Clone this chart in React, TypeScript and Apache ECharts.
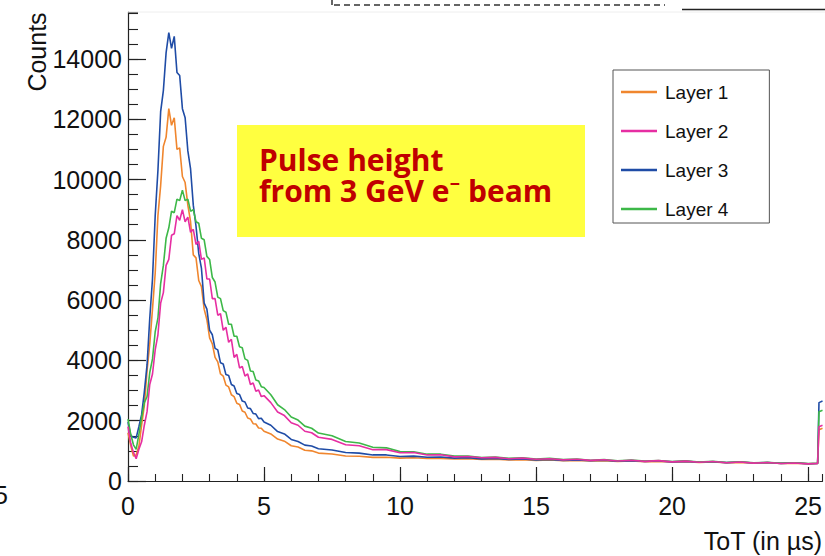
import React, { useEffect, useRef } from "react";
import * as echarts from "echarts";

// ToT positions (µs) – dense sampling in the pulse region, coarser in the tail
const X_PEAK = [
  0, 0.1, 0.2, 0.3, 0.4, 0.5, 0.6, 0.7, 0.8, 0.9,
  1.0, 1.1, 1.2, 1.3, 1.4, 1.5, 1.6, 1.7, 1.8, 1.9,
  2.0, 2.1, 2.2, 2.3, 2.4, 2.5, 2.6, 2.7, 2.8, 2.9,
  3.0, 3.1, 3.2, 3.3, 3.4, 3.5, 3.6, 3.7, 3.8, 3.9,
  4.0, 4.1, 4.2, 4.3, 4.4, 4.5, 4.6, 4.7, 4.8, 4.9, 5.0,
];
const X_TAIL = [
  5.25, 5.5, 5.75, 6, 6.25, 6.5, 6.75, 7, 7.5, 8, 8.5, 9, 9.5, 10, 10.5, 11,
  11.5, 12, 12.5, 13, 13.5, 14, 14.5, 15, 15.5, 16, 16.5, 17, 17.5, 18, 18.5,
  19, 19.5, 20, 20.5, 21, 21.5, 22, 22.5, 23, 23.5, 24, 24.5, 25, 25.35, 25.4, 25.53,
];

// Layer 1 (orange)
const L1_PEAK = [
  1600, 1180, 830, 860, 1150, 1850, 2500, 3650, 4550, 5700,
  6900, 8800, 9800, 11100, 11400, 12350, 11800, 12050, 11000, 11050,
  10100, 9900, 9150, 8600, 7500, 7400, 6650, 6450, 5700, 5350,
  4750, 4550, 4100, 3950, 3550, 3480, 3180, 3120, 2860, 2800,
  2580, 2540, 2320, 2280, 2090, 2060, 1900, 1890, 1760, 1750, 1650,
];
const L1_TAIL = [
  1560, 1390, 1320, 1170, 1130, 1020, 1000, 925, 895, 830, 820, 785, 790, 760,
  770, 745, 752, 728, 738, 715, 722, 698, 708, 685, 695, 672, 682, 662, 672,
  652, 662, 642, 652, 632, 642, 618, 628, 606, 618, 596, 606, 586, 592, 574,
  578, 1700, 1750,
];

// Layer 2 (magenta)
const L2_PEAK = [
  1800, 1250, 950, 740, 1050, 1300, 1850, 2300, 3200, 3550,
  4350, 4850, 5900, 6250, 7150, 7350, 8150, 8200, 8800, 8650,
  9000, 8600, 8750, 8250, 8350, 7850, 7950, 7350, 7400, 6700,
  6700, 6050, 6050, 5500, 5550, 5000, 5100, 4600, 4700, 4100,
  4200, 3750, 3800, 3480, 3550, 3200, 3250, 2980, 3020, 2800, 2830,
];
const L2_TAIL = [
  2600, 2290, 2170, 1930, 1850, 1650, 1600, 1450, 1380, 1200, 1170, 1040, 1040,
  935, 945, 860, 870, 800, 815, 770, 785, 740, 760, 720, 740, 700, 720, 685,
  705, 665, 690, 650, 675, 635, 660, 620, 645, 605, 630, 592, 612, 580, 598,
  568, 585, 1800, 1850,
];

// Layer 3 (blue)
const L3_PEAK = [
  1950, 1500, 1450, 1430, 1800, 2200, 2950, 3850, 5400, 6700,
  8800, 10300, 12250, 12950, 14200, 14870, 14350, 14750, 13550, 13450,
  12350, 12050, 10950, 10350, 9150, 8450, 7550, 7050, 5900, 5700,
  5000, 4850, 4400, 4350, 3920, 3880, 3530, 3500, 3200, 3150,
  2900, 2870, 2650, 2620, 2420, 2400, 2240, 2220, 2070, 2080, 1960,
];
const L3_TAIL = [
  1850, 1640, 1560, 1380, 1310, 1190, 1160, 1070, 1030, 945, 925, 865, 865,
  815, 825, 790, 795, 760, 775, 735, 750, 715, 732, 695, 712, 685, 700, 670,
  688, 655, 675, 645, 662, 635, 652, 620, 638, 610, 628, 595, 612, 585, 600,
  570, 582, 2600, 2650,
];

// Layer 4 (green)
const L4_PEAK = [
  2050, 1550, 1200, 1050, 1550, 2100, 2600, 2800, 3600, 4050,
  4950, 5400, 6550, 7150, 8050, 8400, 8950, 8900, 9350, 9300,
  9650, 9300, 9350, 8950, 9000, 8600, 8550, 8050, 8000, 7450,
  7350, 6750, 6600, 6100, 6050, 5650, 5600, 5200, 5200, 4800,
  4800, 4450, 4420, 4050, 4000, 3650, 3630, 3350, 3320, 3130, 3100,
];
const L4_TAIL = [
  2860, 2530, 2370, 2120, 2020, 1820, 1750, 1590, 1500, 1310, 1260, 1120, 1100,
  975, 970, 890, 890, 825, 830, 780, 795, 750, 770, 728, 750, 708, 730, 690,
  712, 672, 698, 660, 682, 645, 668, 630, 652, 615, 638, 600, 620, 590, 605,
  575, 592, 2300, 2350,
];

const LAYER_NAMES = ["Layer 1", "Layer 2", "Layer 3", "Layer 4"];
const LAYER_COLORS = ["#F0862E", "#E62EA2", "#1F4CA6", "#3DB848"];

const X_TICKS = [0, 5, 10, 15, 20, 25];
const Y_TICKS = [0, 2000, 4000, 6000, 8000, 10000, 12000, 14000];
const X_MAX = 25.53;
const Y_MAX = 15557;

const FONT = "'Liberation Sans', Arial, Helvetica, sans-serif";
const BOX_FONT = "'Open Sans', 'Noto Sans', sans-serif";

const X_ALL = [...X_PEAK, ...X_TAIL];
const LAYER_VALUES = [
  [...L1_PEAK, ...L1_TAIL],
  [...L2_PEAK, ...L2_TAIL],
  [...L3_PEAK, ...L3_TAIL],
  [...L4_PEAK, ...L4_TAIL],
];

export default function App() {
  const ref = useRef<HTMLDivElement>(null);

  useEffect(() => {
    if (!ref.current) return;
    const chart = echarts.init(ref.current, null, { renderer: "svg" });

    const drawOrder = [0, 2, 3, 1];
    const series = drawOrder.map((i) => ({
      type: "line",
      name: LAYER_NAMES[i],
      color: LAYER_COLORS[i],
      data: X_ALL.map((x, k) => [x, LAYER_VALUES[i][k]]),
      showSymbol: false,
      symbol: "none",
      lineStyle: { width: 1.6, color: LAYER_COLORS[i] },
      xAxisIndex: 0,
      yAxisIndex: 0,
      silent: true,
      emphasis: { disabled: true },
    }));

    const axisColor = "#222";
    const plain = (v: number) => String(v);

    chart.setOption({
      animation: false,
      backgroundColor: "#ffffff",
      grid: { left: 128, right: 0, top: 12, bottom: 75, containLabel: false },
      xAxis: [
        {
          type: "value",
          min: 0,
          max: X_MAX,
          interval: 5,
          position: "bottom",
          axisLine: { show: true, onZero: false, lineStyle: { color: axisColor, width: 1.2 } },
          axisTick: { show: true, inside: true, length: 14, customValues: X_TICKS, lineStyle: { color: axisColor, width: 1.2 } },
          axisLabel: { show: true, customValues: X_TICKS, formatter: plain, fontSize: 25, color: "#111", fontFamily: FONT, margin: 12 },
          splitLine: { show: false },
        },
        {
          type: "value",
          min: 0,
          max: X_MAX,
          interval: 1,
          position: "bottom",
          axisLine: { show: false, onZero: false },
          axisTick: { show: true, inside: true, length: 7, lineStyle: { color: axisColor, width: 1.1 } },
          axisLabel: { show: false },
          splitLine: { show: false },
        },
      ],
      yAxis: [
        {
          type: "value",
          min: 0,
          max: Y_MAX,
          interval: 2000,
          position: "left",
          axisLine: { show: true, onZero: false, lineStyle: { color: axisColor, width: 1.2 } },
          axisTick: { show: true, inside: true, length: 18, customValues: Y_TICKS, lineStyle: { color: axisColor, width: 1.2 } },
          axisLabel: { show: true, customValues: Y_TICKS, formatter: plain, fontSize: 25, color: "#111", fontFamily: FONT, margin: 6 },
          splitLine: { show: false },
        },
        {
          type: "value",
          min: 0,
          max: Y_MAX,
          interval: 500,
          position: "left",
          axisLine: { show: false, onZero: false },
          axisTick: { show: true, inside: true, length: 10, lineStyle: { color: axisColor, width: 1.1 } },
          axisLabel: { show: false },
          splitLine: { show: false },
        },
      ],
      legend: {
        orient: "vertical",
        left: 613,
        top: 70,
        data: LAYER_NAMES.map((n) => ({ name: n, icon: "rect" })),
        itemWidth: 36,
        itemHeight: 2.5,
        itemGap: 19,
        padding: [12, 41, 4, 8],
        borderColor: "#555",
        borderWidth: 1,
        backgroundColor: "#fff",
        selectedMode: false,
        textStyle: { fontSize: 19, lineHeight: 20, color: "#111", fontFamily: FONT, padding: [0, 0, 0, 3] },
      },
      graphic: [
        {
          type: "text",
          x: 37,
          y: 52,
          rotation: Math.PI / 2,
          z: 100,
          style: { text: "Counts", fontSize: 25, fontFamily: FONT, fill: "#111", align: "center", verticalAlign: "middle" },
        },
        {
          type: "text",
          x: 822,
          y: 541,
          z: 100,
          style: { text: "ToT (in µs)", fontSize: 25, fontFamily: FONT, fill: "#111", align: "right", verticalAlign: "middle" },
        },
        {
          type: "text",
          x: -6,
          y: 495,
          z: 100,
          style: { text: "5", fontSize: 25, fontFamily: FONT, fill: "#111", align: "left", verticalAlign: "middle" },
        },
        {
          type: "line",
          z: 1,
          shape: { x1: 128, y1: 12, x2: 825, y2: 12 },
          style: { stroke: "#eeeeee", lineWidth: 1 },
        },
        {
          type: "line",
          z: 100,
          shape: { x1: 334, y1: 5, x2: 665, y2: 5 },
          style: { stroke: "#333", lineWidth: 1.5, lineDash: [6, 4] },
        },
        {
          type: "line",
          z: 100,
          shape: { x1: 332, y1: 0, x2: 332, y2: 5 },
          style: { stroke: "#333", lineWidth: 1.5 },
        },
        {
          type: "line",
          z: 100,
          shape: { x1: 682, y1: 9.5, x2: 825, y2: 9.5 },
          style: { stroke: "#222", lineWidth: 1.5 },
        },
        {
          type: "rect",
          z: 100,
          shape: { x: 237, y: 125, width: 348, height: 112 },
          style: { fill: "#FFFF40" },
        },
        {
          type: "text",
          x: 259,
          y: 174.5,
          z: 101,
          style: {
            text: "Pulse height\nfrom 3 GeV e\u207B beam",
            fontSize: 30,
            lineHeight: 31,
            fontWeight: "bold",
            fontFamily: BOX_FONT,
            fill: "#C00000",
            align: "left",
            verticalAlign: "middle",
          },
        },
      ],
      series,
    });

    return () => chart.dispose();
  }, []);

  return (
    <div
      ref={ref}
      style={{ position: "absolute", left: 0, top: 0, width: 825, height: 556, background: "#fff" }}
    />
  );
}
